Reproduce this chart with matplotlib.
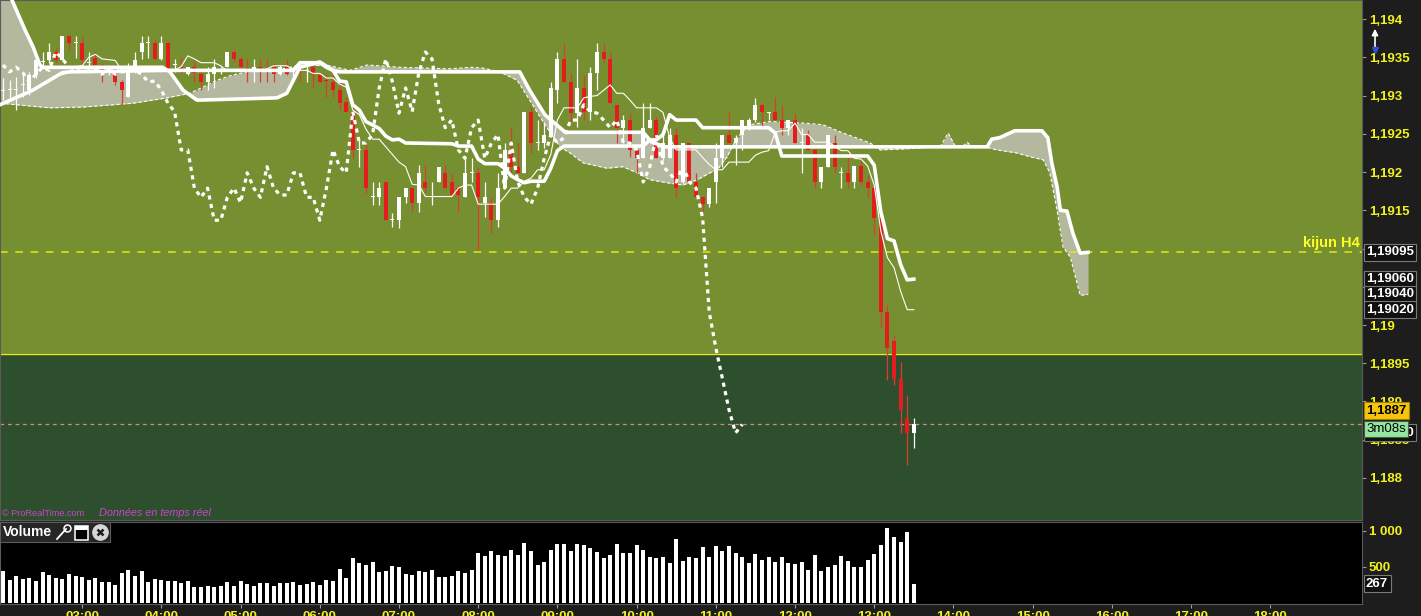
import numpy as np
import matplotlib
matplotlib.use('Agg')
import matplotlib.pyplot as plt
from matplotlib import transforms
from matplotlib.patches import Rectangle, FancyArrowPatch
from matplotlib.lines import Line2D

plt.rcParams['font.family'] = ['Liberation Sans', 'DejaVu Sans']

# EUR/USD 5 min candles, first bar 02:00
opens = [1.19306, 1.19307, 1.19307, 1.19314, 1.19307, 1.19327, 1.19344, 1.19347, 1.19357, 1.19347,
         1.19378, 1.19369, 1.19369, 1.19343, 1.19349, 1.19336, 1.19333, 1.19336, 1.19318, 1.19298,
         1.19331, 1.19357, 1.19369, 1.19369, 1.19348, 1.19369, 1.19340, 1.19337, 1.19328, 1.19337,
         1.19328, 1.19318, 1.19328, 1.19333, 1.19337, 1.19357, 1.19348, 1.19336, 1.19335, 1.19337,
         1.19336, 1.19337, 1.19328, 1.19337, 1.19331, 1.19333, 1.19332, 1.19337, 1.19327, 1.19320,
         1.19318, 1.19307, 1.19292, 1.19279, 1.19229, 1.19229, 1.19167, 1.19167, 1.19187, 1.19137,
         1.19137, 1.19167, 1.19179, 1.19160, 1.19187, 1.19167, 1.19187, 1.19199, 1.19187, 1.19179,
         1.19167, 1.19199, 1.19199, 1.19160, 1.19160, 1.19137, 1.19179, 1.19226, 1.19207, 1.19199,
         1.19279, 1.19238, 1.19238, 1.19246, 1.19307, 1.19348, 1.19318, 1.19277, 1.19310, 1.19279,
         1.19330, 1.19357, 1.19348, 1.19288, 1.19258, 1.19268, 1.19229, 1.19218, 1.19258, 1.19268,
         1.19218, 1.19218, 1.19249, 1.19187, 1.19238, 1.19187, 1.19167, 1.19158, 1.19187, 1.19218,
         1.19249, 1.19238, 1.19249, 1.19258, 1.19268, 1.19288, 1.19277, 1.19279, 1.19268, 1.19258,
         1.19268, 1.19238, 1.19249, 1.19229, 1.19187, 1.19207, 1.19238, 1.19199, 1.19199, 1.19187,
         1.19208, 1.19187, 1.19179, 1.19140, 1.19017, 1.18979, 1.18930, 1.18879, 1.18859]
highs = [1.19323, 1.19320, 1.19324, 1.19330, 1.19331, 1.19350, 1.19357, 1.19369, 1.19362, 1.19378,
         1.19378, 1.19378, 1.19378, 1.19357, 1.19357, 1.19343, 1.19337, 1.19340, 1.19320, 1.19343,
         1.19357, 1.19378, 1.19378, 1.19373, 1.19378, 1.19370, 1.19348, 1.19349, 1.19337, 1.19347,
         1.19337, 1.19337, 1.19348, 1.19337, 1.19357, 1.19360, 1.19350, 1.19348, 1.19348, 1.19348,
         1.19348, 1.19343, 1.19340, 1.19348, 1.19337, 1.19337, 1.19344, 1.19340, 1.19328, 1.19328,
         1.19328, 1.19318, 1.19298, 1.19288, 1.19242, 1.19238, 1.19187, 1.19187, 1.19187, 1.19147,
         1.19167, 1.19179, 1.19179, 1.19209, 1.19209, 1.19187, 1.19207, 1.19209, 1.19199, 1.19183,
         1.19218, 1.19218, 1.19207, 1.19187, 1.19167, 1.19199, 1.19238, 1.19259, 1.19238, 1.19279,
         1.19285, 1.19268, 1.19266, 1.19318, 1.19357, 1.19369, 1.19330, 1.19348, 1.19327, 1.19337,
         1.19369, 1.19369, 1.19357, 1.19288, 1.19275, 1.19277, 1.19229, 1.19290, 1.19290, 1.19272,
         1.19249, 1.19258, 1.19258, 1.19238, 1.19238, 1.19199, 1.19167, 1.19179, 1.19238, 1.19249,
         1.19279, 1.19249, 1.19268, 1.19271, 1.19297, 1.19290, 1.19279, 1.19298, 1.19288, 1.19268,
         1.19277, 1.19258, 1.19255, 1.19232, 1.19207, 1.19249, 1.19249, 1.19207, 1.19229, 1.19208,
         1.19216, 1.19196, 1.19183, 1.19144, 1.19026, 1.18987, 1.18951, 1.18909, 1.18879]
lows = [1.19294, 1.19294, 1.19281, 1.19298, 1.19301, 1.19323, 1.19337, 1.19343, 1.19344, 1.19347,
        1.19360, 1.19349, 1.19340, 1.19330, 1.19337, 1.19318, 1.19327, 1.19314, 1.19288, 1.19298,
        1.19330, 1.19348, 1.19349, 1.19347, 1.19347, 1.19333, 1.19331, 1.19330, 1.19327, 1.19318,
        1.19307, 1.19307, 1.19310, 1.19328, 1.19337, 1.19344, 1.19333, 1.19318, 1.19318, 1.19318,
        1.19318, 1.19318, 1.19327, 1.19327, 1.19318, 1.19318, 1.19318, 1.19310, 1.19318, 1.19298,
        1.19298, 1.19281, 1.19279, 1.19218, 1.19207, 1.19173, 1.19157, 1.19157, 1.19137, 1.19128,
        1.19127, 1.19160, 1.19148, 1.19148, 1.19173, 1.19157, 1.19187, 1.19179, 1.19170, 1.19148,
        1.19167, 1.19187, 1.19098, 1.19141, 1.19120, 1.19128, 1.19179, 1.19199, 1.19199, 1.19199,
        1.19225, 1.19229, 1.19232, 1.19246, 1.19290, 1.19318, 1.19266, 1.19259, 1.19268, 1.19268,
        1.19307, 1.19343, 1.19290, 1.19238, 1.19238, 1.19220, 1.19199, 1.19218, 1.19258, 1.19218,
        1.19216, 1.19218, 1.19167, 1.19186, 1.19186, 1.19167, 1.19148, 1.19154, 1.19160, 1.19207,
        1.19238, 1.19209, 1.19229, 1.19255, 1.19266, 1.19258, 1.19268, 1.19268, 1.19249, 1.19249,
        1.19238, 1.19199, 1.19229, 1.19179, 1.19179, 1.19207, 1.19199, 1.19179, 1.19179, 1.19179,
        1.19183, 1.19167, 1.19118, 1.18998, 1.18928, 1.18922, 1.18859, 1.18817, 1.18839]
closes = [1.19307, 1.19309, 1.19307, 1.19314, 1.19327, 1.19347, 1.19344, 1.19357, 1.19347, 1.19378,
          1.19369, 1.19369, 1.19347, 1.19343, 1.19340, 1.19331, 1.19333, 1.19318, 1.19307, 1.19331,
          1.19347, 1.19369, 1.19369, 1.19348, 1.19369, 1.19336, 1.19340, 1.19331, 1.19337, 1.19330,
          1.19318, 1.19328, 1.19337, 1.19333, 1.19357, 1.19348, 1.19337, 1.19335, 1.19337, 1.19336,
          1.19334, 1.19328, 1.19337, 1.19328, 1.19331, 1.19332, 1.19333, 1.19328, 1.19318, 1.19319,
          1.19307, 1.19290, 1.19279, 1.19229, 1.19229, 1.19179, 1.19167, 1.19179, 1.19137, 1.19137,
          1.19167, 1.19179, 1.19160, 1.19199, 1.19179, 1.19167, 1.19207, 1.19179, 1.19170, 1.19170,
          1.19199, 1.19199, 1.19167, 1.19167, 1.19137, 1.19179, 1.19229, 1.19207, 1.19199, 1.19279,
          1.19238, 1.19238, 1.19249, 1.19310, 1.19348, 1.19318, 1.19277, 1.19310, 1.19279, 1.19330,
          1.19357, 1.19348, 1.19290, 1.19258, 1.19268, 1.19229, 1.19218, 1.19258, 1.19268, 1.19218,
          1.19238, 1.19249, 1.19179, 1.19238, 1.19187, 1.19167, 1.19158, 1.19179, 1.19218, 1.19249,
          1.19238, 1.19245, 1.19268, 1.19268, 1.19288, 1.19279, 1.19277, 1.19268, 1.19258, 1.19268,
          1.19238, 1.19238, 1.19229, 1.19187, 1.19207, 1.19249, 1.19207, 1.19199, 1.19187, 1.19208,
          1.19187, 1.19179, 1.19140, 1.19017, 1.18970, 1.18930, 1.18889, 1.18859, 1.18870]
volumes = [445, 320, 375, 340, 350, 305, 430, 390, 350, 333,
           400, 370, 360, 320, 350, 290, 290, 250, 415, 460,
           375, 445, 290, 333, 320, 300, 305, 278, 305, 222,
           222, 236, 222, 236, 290, 236, 305, 264, 236, 278,
           278, 236, 278, 278, 290, 250, 264, 290, 250, 320,
           305, 473, 350, 625, 555, 528, 570, 430, 445, 514,
           500, 400, 390, 445, 430, 460, 360, 360, 375, 445,
           415, 460, 695, 653, 723, 667, 653, 737, 667, 834,
           723, 528, 570, 737, 820, 820, 723, 820, 806, 764,
           709, 625, 667, 820, 695, 695, 806, 737, 640, 625,
           640, 555, 890, 584, 640, 625, 778, 640, 792, 723,
           792, 695, 640, 555, 681, 598, 640, 570, 640, 555,
           542, 570, 460, 667, 445, 500, 528, 653, 584, 500,
           500, 598, 681, 806, 1042, 917, 848, 987, 267]

# Ichimoku lines (bar position, price)
tenkan_bar = [8, 10, 11, 12, 13, 14, 15, 17, 18, 26,
              27, 28, 29, 30, 32, 33, 34, 35, 39, 40,
              41, 43, 44, 45, 46, 47, 48, 49, 50, 51,
              52, 53, 54, 55, 56, 57, 58, 59, 60, 61,
              62, 63, 64, 68, 69, 70, 71, 72, 75, 76,
              77, 78, 79, 80, 81, 82, 83, 84, 85, 87,
              88, 89, 90, 91, 92, 93, 94, 95, 96, 99,
              100, 101, 102, 105, 106, 107, 108, 109, 110, 113,
              114, 115, 116, 117, 118, 119, 120, 121, 122, 123,
              125, 126, 127, 128, 129, 130, 131, 132, 133, 134,
              135, 136, 137, 138]
tenkan_val = [1.19325, 1.19330, 1.19338, 1.19339, 1.19350, 1.19354, 1.19348, 1.19346, 1.19333, 1.19333,
              1.19338, 1.19352, 1.19348, 1.19343, 1.19343, 1.19339, 1.19332, 1.19333, 1.19333, 1.19335,
              1.19339, 1.19339, 1.19334, 1.19333, 1.19333, 1.19329, 1.19329, 1.19323, 1.19323, 1.19315,
              1.19311, 1.19281, 1.19275, 1.19256, 1.19243, 1.19243, 1.19233, 1.19223, 1.19213, 1.19207,
              1.19184, 1.19183, 1.19168, 1.19168, 1.19179, 1.19183, 1.19183, 1.19158, 1.19158, 1.19168,
              1.19179, 1.19179, 1.19188, 1.19192, 1.19203, 1.19203, 1.19223, 1.19268, 1.19284, 1.19284,
              1.19297, 1.19299, 1.19300, 1.19307, 1.19314, 1.19303, 1.19303, 1.19294, 1.19284, 1.19284,
              1.19278, 1.19245, 1.19229, 1.19229, 1.19219, 1.19210, 1.19203, 1.19203, 1.19213, 1.19213,
              1.19222, 1.19226, 1.19228, 1.19252, 1.19254, 1.19254, 1.19264, 1.19249, 1.19249, 1.19239,
              1.19239, 1.19234, 1.19228, 1.19228, 1.19218, 1.19217, 1.19208, 1.19183, 1.19123, 1.19088,
              1.19075, 1.19044, 1.19020, 1.19020]
kijun_bar = [-0.45, 4.5, 9, 10, 25, 44, 45, 48, 49, 50,
             51, 52, 53, 54, 55, 57, 58, 59, 60, 61,
             68, 69, 71, 72, 73, 75, 76, 77, 78, 79,
             80, 82, 83, 84, 85, 97, 98, 99, 100, 101,
             102, 105, 106, 116, 117, 118, 131, 132, 133, 134,
             135, 136, 137, 138]
kijun_val = [1.19288, 1.19307, 1.19330, 1.19331, 1.19333, 1.19333, 1.19343, 1.19343, 1.19337, 1.19333,
             1.19319, 1.19318, 1.19288, 1.19281, 1.19266, 1.19257, 1.19247, 1.19242, 1.19243, 1.19238,
             1.19237, 1.19234, 1.19234, 1.19217, 1.19211, 1.19211, 1.19205, 1.19195, 1.19190, 1.19186,
             1.19188, 1.19188, 1.19205, 1.19228, 1.19234, 1.19234, 1.19242, 1.19242, 1.19249, 1.19275,
             1.19268, 1.19268, 1.19258, 1.19258, 1.19251, 1.19221, 1.19221, 1.19209, 1.19148, 1.19113,
             1.19110, 1.19079, 1.19059, 1.19060]
ssa_bar = [-0.45, 2.1, 7.1, 12.1, 19.7, 24.8, 28.3, 30.3, 32.4, 34.8,
           37.0, 41.5, 45.0, 49.5, 52.6, 55.2, 60.2, 67.7, 70.8, 72.7,
           75.3, 77.9, 79.8, 82.1, 84.4, 85.9, 87.9, 91.5, 93.9, 96.1,
           98.0, 100.6, 103.0, 105.2, 107.1, 108.2, 109.7, 110.6, 111.7, 113.2,
           116.2, 121.2, 124.2, 127.3, 131.4, 132.9, 135.9, 142.0, 143.2, 144.2,
           145.3, 146.1, 146.8, 149.1, 150.6, 153.6, 155.6, 157.6, 158.6, 159.7,
           160.6, 161.7, 163.2, 164.4]
ssa_val = [1.19290, 1.19288, 1.19284, 1.19285, 1.19290, 1.19297, 1.19303, 1.19311, 1.19320, 1.19327,
           1.19331, 1.19333, 1.19340, 1.19339, 1.19333, 1.19340, 1.19337, 1.19335, 1.19337, 1.19336,
           1.19331, 1.19320, 1.19294, 1.19262, 1.19233, 1.19225, 1.19212, 1.19205, 1.19207, 1.19199,
           1.19190, 1.19186, 1.19183, 1.19190, 1.19199, 1.19203, 1.19220, 1.19235, 1.19249, 1.19262,
           1.19266, 1.19264, 1.19262, 1.19251, 1.19238, 1.19229, 1.19230, 1.19233, 1.19251, 1.19235,
           1.19233, 1.19239, 1.19233, 1.19232, 1.19229, 1.19225, 1.19220, 1.19216, 1.19199, 1.19150,
           1.19102, 1.19089, 1.19039, 1.19040]
ssb_bar = [-0.5, 1.36, 3.33, 4.55, 5.6, 6.1, 24.2, 25.3, 27.3, 29.4,
           41.5, 43.0, 45.0, 48.0, 50.0, 51.0, 78.3, 79.8, 82.1, 85.2,
           97.0, 98.3, 100.3, 149.1, 149.8, 151.0, 153.3, 157.4, 158.3, 158.9,
           159.7, 160.2, 161.2, 162.1, 163.2, 164.4]
ssb_val = [1.19460, 1.19425, 1.19386, 1.19364, 1.19340, 1.19337, 1.19337, 1.19331, 1.19307, 1.19294,
           1.19297, 1.19303, 1.19337, 1.19344, 1.19333, 1.19331, 1.19331, 1.19307, 1.19275, 1.19252,
           1.19252, 1.19239, 1.19233, 1.19233, 1.19243, 1.19245, 1.19254, 1.19254, 1.19245, 1.19212,
           1.19181, 1.19150, 1.19149, 1.19120, 1.19094, 1.19095]

yticks = [1.188, 1.1885, 1.189, 1.1895, 1.19, 1.1905, 1.191, 1.1915, 1.192, 1.1925, 1.193, 1.1935, 1.194]
ytick_labels = ['1,188', '1,1885', '1,189', '1,1895', '1,19', '1,1905', '1,191', '1,1915',
                '1,192', '1,1925', '1,193', '1,1935', '1,194']
hour_labels = ['03:00', '04:00', '05:00', '06:00', '07:00', '08:00', '09:00', '10:00',
               '11:00', '12:00', '13:00', '14:00', '15:00', '16:00', '17:00', '18:00']
kijun_h4 = 1.19095
zone_line = 1.18962
last_price = 1.18870

W, H = 1421, 616
YEL = '#f2f21c'
fig = plt.figure(figsize=(W / 100, H / 100), dpi=100, facecolor='#1d1d1d')


def fx(px):
    return px / W


def fy(py):
    return 1 - py / H


ax = fig.add_axes([0, fy(520), fx(1362), 520 / H])
axv = fig.add_axes([0, fy(604), fx(1362), (604 - 522) / H])

x0, x1 = -0.45, 205.9
ax.set_xlim(x0, x1)
ax.set_ylim(1.18745, 1.19425)
ax.set_facecolor('#768f31')
ax.axhspan(1.18700, zone_line, color='#2d4f2d', zorder=0)
ax.axhline(zone_line, color='#e8e81e', lw=1.0, zorder=1)

# cloud
grid = np.linspace(-0.5, 164.4, 3000)
ssa_g = np.interp(grid, ssa_bar, ssa_val)
ssb_g = np.interp(grid, ssb_bar, ssb_val)
ax.fill_between(grid, ssa_g, ssb_g, color='#b3b89e', lw=0, zorder=1.5)
ax.plot(ssa_bar, ssa_val, color='white', lw=0.8, ls=(0, (3, 2)), zorder=2)

ax.axhline(kijun_h4, color='#e6e61c', lw=1.1, ls=(0, (5, 5)), zorder=2)
ax.axhline(last_price, color='#d88a80', lw=0.9, ls=(0, (3, 3)), zorder=2)

# candles
idx = np.arange(len(opens))
o = np.array(opens)
h = np.array(highs)
l = np.array(lows)
c = np.array(closes)
up = c >= o
body_lo = np.minimum(o, c)
body_h = np.maximum(np.abs(c - o), 0.000013)
ax.vlines(idx, l, h, colors=np.where(up, 'white', '#d8402e'), lw=0.9, zorder=3)
ax.bar(idx, body_h, bottom=body_lo, width=0.62, color=np.where(up, 'white', '#e41c1c'),
       lw=0, zorder=3.5)

# ichimoku lines
ax.plot(ssb_bar, ssb_val, color='white', lw=2.6, zorder=4, solid_joinstyle='round')
ax.plot(kijun_bar, kijun_val, color='white', lw=2.6, zorder=4, solid_joinstyle='round')
ax.plot(tenkan_bar, tenkan_val, color='white', lw=0.8, zorder=4)
ax.plot(idx[26:] - 26, c[26:], color='white', lw=2.3, ls=(0, (1.3, 1.4)), zorder=4)

ax.set_xticks([])
ax.yaxis.tick_right()
ax.set_yticks(yticks)
ax.set_yticklabels(ytick_labels)
ax.tick_params(axis='y', colors='#9a9a9a', labelcolor=YEL, labelsize=9.5, length=3, pad=2)
for t in ax.get_yticklabels():
    t.set_fontweight('bold')
for s in ax.spines.values():
    s.set_color('#5a5a5a')
    s.set_linewidth(0.8)

# volume panel
axv.set_facecolor('black')
axv.bar(idx, volumes, width=0.62, color='white', lw=0)
axv.set_xlim(x0, x1)
axv.set_ylim(-14, 1125)
axv.yaxis.tick_right()
axv.set_yticks([500, 1000])
axv.set_yticklabels(['500', '1 000'])
axv.set_xticks(np.arange(12, 193, 12))
axv.set_xticklabels(hour_labels)
axv.tick_params(axis='both', colors='#9a9a9a', labelcolor=YEL, labelsize=9.5, length=3, pad=2)
for t in axv.get_yticklabels() + axv.get_xticklabels():
    t.set_fontweight('bold')
for s in axv.spines.values():
    s.set_color('#5a5a5a')
    s.set_linewidth(0.8)

fig.add_artist(Rectangle((0, fy(542)), fx(110), 20 / H, transform=fig.transFigure,
                         fc='#262626', ec='#5c5c5c', lw=0.8))
fig.text(fx(3), fy(532), 'Volume', color='white', fontsize=10, fontweight='bold', va='center')
fig.add_artist(Line2D([fx(57), fx(66)], [fy(539), fy(529)], color='white', lw=1.3,
                      transform=fig.transFigure))
fig.add_artist(Line2D([fx(67)], [fy(528)], marker='o', ms=5, mfc='none', mec='white', mew=1.1,
                      transform=fig.transFigure))
fig.add_artist(Rectangle((fx(75), fy(540)), fx(13), 14 / H, transform=fig.transFigure,
                         fc='black', ec='white', lw=1.1))
fig.add_artist(Rectangle((fx(75), fy(530)), fx(13), 4 / H, transform=fig.transFigure,
                         fc='white', ec='white', lw=0))
fig.add_artist(Line2D([fx(100)], [fy(532)], marker='o', ms=11, mfc='#d6d6d6', mec='#d6d6d6',
                      transform=fig.transFigure))
fig.add_artist(Line2D([fx(100)], [fy(532)], marker='x', ms=5, mec='#1a1a1a', mew=1.8,
                      transform=fig.transFigure))

fig.text(fx(2), fy(513), '© ProRealTime.com', color='#cc44cc', fontsize=6.6, va='center')
fig.text(fx(99), fy(513), 'Données en temps réel', color='#cc44cc', fontsize=7.8,
         style='italic', va='center')
fig.text(fx(1360), fy(243), 'kijun H4', color='#ffff26', fontsize=10.5, fontweight='bold',
         ha='right', va='center')

# price tags on the right scale
tr = transforms.blended_transform_factory(fig.transFigure, ax.transData)


def tag(price, text, fg='white', bg='#101010', ec='#7a7a7a', weight='bold'):
    fig.text(fx(1366), price, text, transform=tr, color=fg, fontsize=9.5, fontweight=weight,
             va='center', ha='left',
             bbox=dict(boxstyle='square,pad=0.18', fc=bg, ec=ec, lw=0.8), zorder=5)


tag(1.19095, '1,19095')
tag(1.19060, '1,19060')
tag(1.19040, '1,19040')
tag(1.19020, '1,19020')
tag(1.18859, '1,18870')
tag(1.18888, '1,1887', fg='black', bg='#f5c40c', ec='#a08000')
tag(1.18864, '3m08s', fg='black', bg='#94e6a2', ec='#406040', weight='normal')

trv = transforms.blended_transform_factory(fig.transFigure, axv.transData)
fig.text(fx(1366), 267, '267', transform=trv, color='white', fontsize=9.5, fontweight='bold',
         va='center', bbox=dict(boxstyle='square,pad=0.18', fc='#101010', ec='#7a7a7a', lw=0.8))

fig.add_artist(FancyArrowPatch((fx(1375), fy(52)), (fx(1375), fy(26)), transform=fig.transFigure,
                               arrowstyle='-|>', mutation_scale=9, color='white', lw=1.2))
fig.add_artist(Line2D([fx(1375)], [fy(50)], marker='v', ms=4, color='#3050d0',
                      transform=fig.transFigure))

fig.savefig('out.png', dpi=100, facecolor=fig.get_facecolor())
